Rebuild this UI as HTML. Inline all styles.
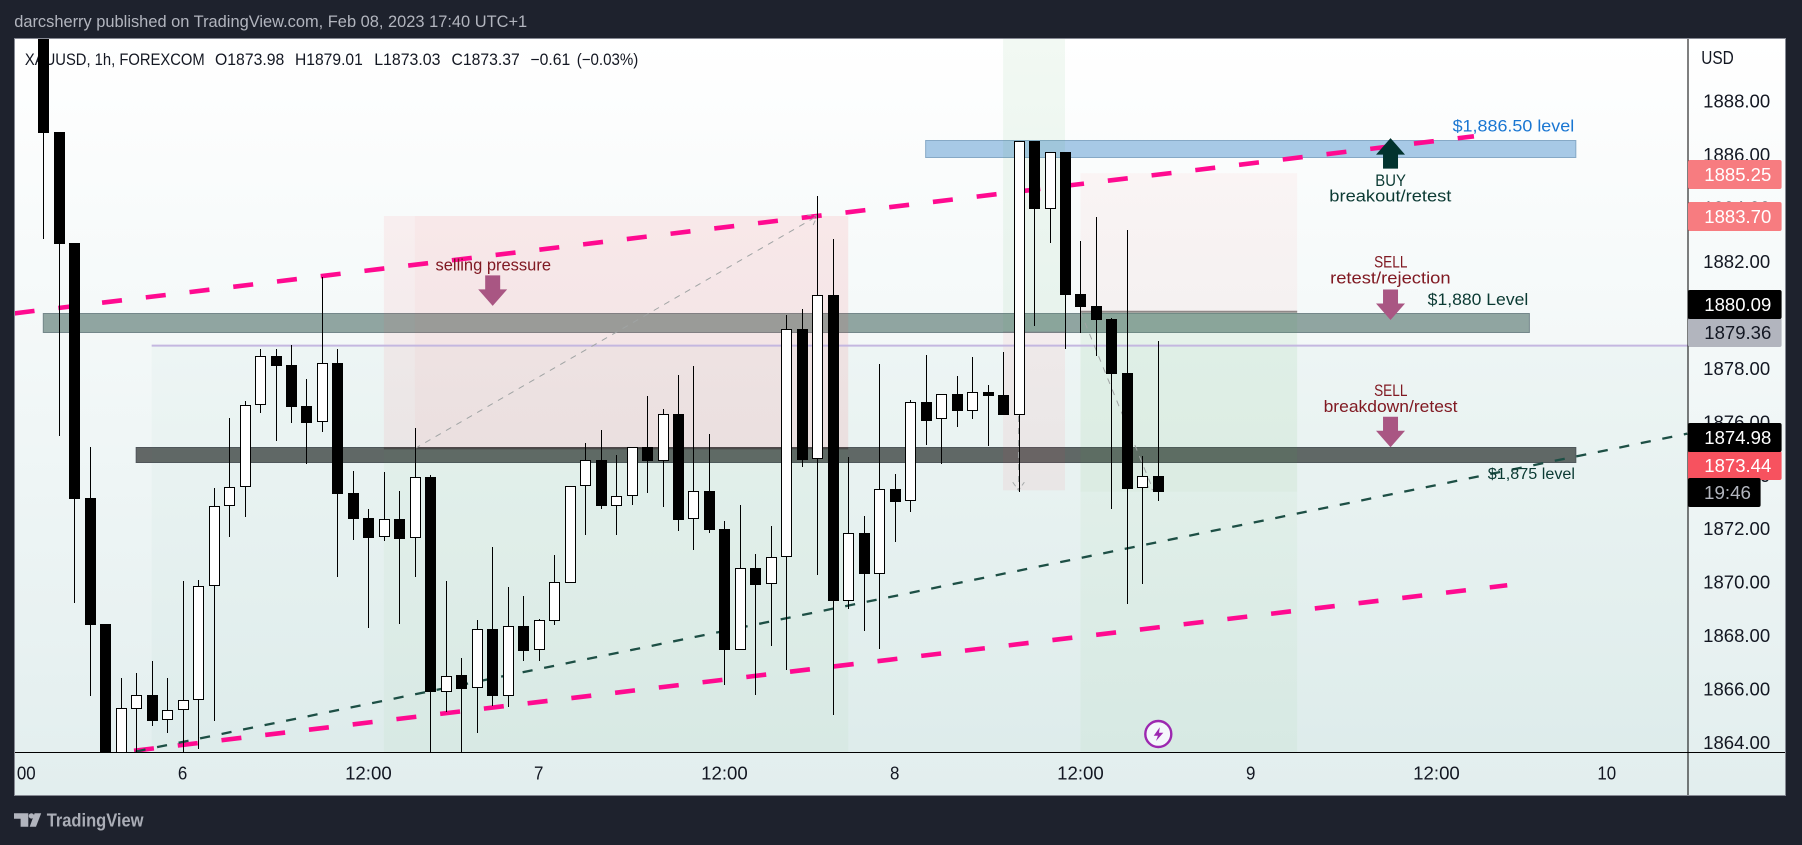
<!DOCTYPE html>
<html lang="en">
<head>
<meta charset="utf-8">
<title>XAUUSD 1h chart</title>
<style>
html,body{margin:0;padding:0;width:1802px;height:845px;overflow:hidden;background:#1e222d;}
svg{display:block;}
text{font-family:"Liberation Sans",sans-serif;}
</style>
</head>
<body>
<svg id="chart" xmlns="http://www.w3.org/2000/svg" width="1802" height="845" viewBox="0 0 1802 845">
  <defs>
    <linearGradient id="paneGradient" x1="0" y1="0" x2="0" y2="1">
      <stop offset="0" stop-color="#ffffff"/>
      <stop offset="1" stop-color="#e2eeee"/>
    </linearGradient>
    <clipPath id="paneClip"><rect x="15" y="39" width="1673" height="713"/></clipPath>
    <clipPath id="timeClip"><rect x="15" y="753" width="1673" height="42"/></clipPath>
  </defs>

  <rect x="0" y="0" width="1802" height="845" fill="#1e222d"/>
  <text x="14.2" y="27" font-size="17" fill="#b2b5be" textLength="513" lengthAdjust="spacingAndGlyphs">darcsherry published on TradingView.com, Feb 08, 2023 17:40 UTC+1</text>

  <rect x="14.5" y="38.5" width="1771" height="757" fill="url(#paneGradient)" stroke="#868993" stroke-width="1"/>

  <g font-size="16.5" fill="#131722">
    <text x="24.9" y="65" textLength="179.8" lengthAdjust="spacingAndGlyphs">XAUUSD, 1h, FOREXCOM</text>
    <text x="215" y="65" textLength="69.3" lengthAdjust="spacingAndGlyphs">O1873.98</text>
    <text x="295" y="65" textLength="67.8" lengthAdjust="spacingAndGlyphs">H1879.01</text>
    <text x="374.2" y="65" textLength="66.3" lengthAdjust="spacingAndGlyphs">L1873.03</text>
    <text x="451.5" y="65" textLength="68.2" lengthAdjust="spacingAndGlyphs">C1873.37</text>
    <text x="530.4" y="65" textLength="39.8" lengthAdjust="spacingAndGlyphs">−0.61</text>
    <text x="576.7" y="65" textLength="61.6" lengthAdjust="spacingAndGlyphs">(−0.03%)</text>
  </g>

  <g id="plot" clip-path="url(#paneClip)">
    <g id="bands"></g>
    <g id="boxes"></g>
    <g id="trends"></g>
    <g id="candles"></g>
  </g>

  <g id="arrows"></g>

  <g font-size="17">
    <text x="435.5" y="270.7" fill="#801922" textLength="115.5" lengthAdjust="spacingAndGlyphs">selling pressure</text>
    <text x="1452.6" y="131.7" fill="#1976d2" textLength="121.6" lengthAdjust="spacingAndGlyphs">$1,886.50 level</text>
    <text x="1375.3" y="186" fill="#0b3a33" textLength="30.6" lengthAdjust="spacingAndGlyphs">BUY</text>
    <text x="1329.3" y="201.7" fill="#0b3a33" textLength="122.1" lengthAdjust="spacingAndGlyphs">breakout/retest</text>
    <text x="1374.1" y="267.3" fill="#801922" textLength="33.3" lengthAdjust="spacingAndGlyphs">SELL</text>
    <text x="1330.1" y="283.3" fill="#801922" textLength="120.5" lengthAdjust="spacingAndGlyphs">retest/rejection</text>
    <text x="1427.7" y="305" fill="#0b3a33" textLength="100.6" lengthAdjust="spacingAndGlyphs">$1,880 Level</text>
    <text x="1374.1" y="396" fill="#801922" textLength="33.3" lengthAdjust="spacingAndGlyphs">SELL</text>
    <text x="1323.6" y="412" fill="#801922" textLength="133.9" lengthAdjust="spacingAndGlyphs">breakdown/retest</text>
    <text x="1487.8" y="479" fill="#0b3a33" font-size="15.5" textLength="87.2" lengthAdjust="spacingAndGlyphs">$1,875 level</text>
  </g>

  <g>
    <circle cx="1158.3" cy="734" r="13" fill="#f4f7fb" stroke="#9c27b0" stroke-width="2.4"/>
    <polygon points="1159.8,727.3 1153.7,735.7 1157.9,735.7 1156,741 1163.3,732.7 1159,732.7" fill="#9c27b0"/>
  </g>

  <line x1="1688" y1="39" x2="1688" y2="795" stroke="#000" stroke-width="1"/>
  <line x1="15" y1="752.5" x2="1785" y2="752.5" stroke="#000" stroke-width="1"/>

  <text x="1701.3" y="64" font-size="18" fill="#131722" textLength="32.5" lengthAdjust="spacingAndGlyphs">USD</text>
  <g id="priceTicks"></g>
  <g id="timeTicks" clip-path="url(#timeClip)"></g>

  <g font-size="18">
    <g>
      <rect x="1688" y="160" width="93.6" height="29" rx="2" fill="#f77c80"/>
      <text x="1704.3" y="181" fill="#fff" textLength="67" lengthAdjust="spacingAndGlyphs">1885.25</text>
    </g>
    <g>
      <rect x="1688" y="202" width="93.6" height="29" rx="2" fill="#f77c80"/>
      <text x="1704.3" y="223" fill="#fff" textLength="67" lengthAdjust="spacingAndGlyphs">1883.70</text>
    </g>
    <g>
      <rect x="1688" y="318" width="93.6" height="29" rx="2" fill="#b2b5be"/>
      <text x="1704.3" y="339" fill="#131722" textLength="67" lengthAdjust="spacingAndGlyphs">1879.36</text>
    </g>
    <g>
      <rect x="1688" y="290" width="93.6" height="29" rx="2" fill="#000"/>
      <text x="1704.3" y="311" fill="#fff" textLength="67" lengthAdjust="spacingAndGlyphs">1880.09</text>
    </g>
    <g>
      <rect x="1688" y="451" width="93.6" height="29" rx="2" fill="#f7525f"/>
      <text x="1704.3" y="472" fill="#fff" textLength="67" lengthAdjust="spacingAndGlyphs">1873.44</text>
    </g>
    <g>
      <rect x="1688" y="423" width="93.6" height="29" rx="2" fill="#000"/>
      <text x="1704.3" y="444" fill="#fff" textLength="67" lengthAdjust="spacingAndGlyphs">1874.98</text>
    </g>
    <g>
      <rect x="1688" y="478" width="72.6" height="29" rx="2" fill="#000"/>
      <text x="1704" y="499" fill="#b2b5be" textLength="47" lengthAdjust="spacingAndGlyphs">19:46</text>
    </g>
  </g>

  <g>
    <polygon points="14,813.3 28.3,813.3 28.3,826.7 20.6,826.7 20.6,818.8 14,818.8" fill="#b2b5be"/>
    <circle cx="31.4" cy="815.9" r="2.7" fill="#b2b5be"/>
    <polygon points="34.6,813.3 41.2,813.3 36,826.7 29.7,826.7" fill="#b2b5be"/>
    <text x="46.7" y="826.7" font-size="18" font-weight="bold" fill="#b2b5be" fill-opacity="0.95" textLength="96.8" lengthAdjust="spacingAndGlyphs">TradingView</text>
  </g>
</svg>

<script>
// --- Candle values (one hourly bar per entry) ---
const opens = [1892,1886.84,1882.69,1873.15,1868.44,1863,1865.28,1865.79,1864.84,1865.21,1865.59,1869.85,1872.84,1873.55,1876.62,1878.45,1878.11,1876.59,1875.98,1878.19,1873.34,1872.39,1871.68,1872.36,1871.64,1873.93,1865.91,1866.52,1866.04,1868.24,1865.76,1868.37,1867.46,1868.57,1869.99,1873.59,1874.57,1872.87,1873.22,1875.05,1874.55,1876.28,1872.36,1873.42,1871.99,1867.48,1870.52,1869.92,1870.93,1879.46,1874.60,1880.74,1869.31,1871.84,1870.32,1873.49,1873.03,1876.74,1876.10,1877.03,1876.42,1877.11,1877.00,1876.27,1886.50,1883.97,1886.09,1880.78,1880.33,1879.85,1877.82,1873.51,1873.98];
const highs = [1893,1886.84,1882.69,1875.06,1868.44,1866.42,1866.61,1867.06,1866.42,1870.05,1870.09,1873.51,1876.13,1876.77,1878.71,1878.71,1878.86,1877.60,1881.41,1878.71,1874.16,1872.74,1874.13,1873.42,1875.76,1874.01,1870.05,1867.17,1868.59,1871.32,1869.81,1869.49,1868.63,1871.02,1873.59,1875.20,1875.70,1874.76,1875.05,1876.97,1876.47,1877.75,1878.09,1875.55,1872.29,1872.89,1871.06,1872.11,1880.00,1880.22,1884.45,1882.84,1874.70,1872.48,1878.16,1874.05,1876.82,1878.50,1877.03,1877.72,1878.41,1877.38,1878.60,1886.49,1886.50,1886.08,1886.09,1882.76,1883.66,1879.87,1883.18,1874.72,1879.01];
const lows = [1882.85,1875.48,1869.24,1865.75,1862,1862,1863.5,1864.64,1864.38,1863.5,1863.78,1864.83,1871.69,1872.44,1876.34,1875.30,1875.97,1874.44,1875.63,1870.21,1871.58,1868.30,1871.56,1868.44,1870.21,1863.5,1865.14,1863.5,1864.38,1865.37,1865.32,1867.07,1867.07,1868.42,1869.99,1871.77,1872.74,1871.77,1872.89,1873.35,1872.83,1871.93,1871.22,1871.86,1866.16,1867.48,1865.79,1867.62,1866.72,1874.33,1870.27,1865.04,1869.00,1868.19,1867.51,1871.52,1872.64,1875.15,1874.41,1875.82,1876.12,1875.10,1876.26,1873.39,1879.60,1882.70,1878.74,1879.34,1878.48,1872.75,1869.20,1869.95,1873.03];
const closes = [1886.82,1882.65,1873.12,1868.40,1863,1865.29,1865.77,1864.83,1865.21,1865.59,1869.85,1872.84,1873.55,1876.62,1878.45,1878.10,1876.57,1875.97,1878.19,1873.32,1872.38,1871.67,1872.36,1871.63,1873.93,1865.91,1866.51,1866.02,1868.24,1865.75,1868.35,1867.44,1868.58,1870.00,1873.59,1874.56,1872.87,1873.22,1875.05,1874.54,1876.28,1872.34,1873.40,1871.97,1867.48,1870.52,1869.91,1870.93,1879.46,1874.57,1880.73,1869.30,1871.83,1870.31,1873.48,1873.02,1876.73,1876.05,1877.03,1876.42,1877.11,1876.98,1876.26,1886.49,1883.96,1886.08,1880.74,1880.31,1879.82,1877.80,1873.50,1873.96,1873.37];

// --- Axis tick labels ---
const priceTickValues = [1888,1886,1884,1882,1880,1878,1876,1874,1872,1870,1868,1866,1864];
const timeTickLabels = ['00','6','12:00','7','12:00','8','12:00','9','12:00','10'];
const timeTickBars = [-1.1,9,21,32,44,55,67,78,90,101];

// --- Drawing tools, as [left bar, right bar, top price, bottom price] ---
const resistanceBand = [0,96,1880.06,1879.37];
const supportBand = [6,99,1875.05,1874.51];
const breakoutBand = [57,99,1886.53,1885.92];
const lowerRangeZone = [7,107,1878.85,1863];
const shortTargetZone = [22,52,1875.01,1863];
const shortStopZone = [22,52,1883.70,1875.01];
const shortStopInner = [24,52,1883.70,1875.01];
const midStopZone = [62,66,1879.36,1873.44];
const midTargetZone = [62,66,1891,1879.36];
const lateStopZone = [67,81,1885.30,1880.12];
const lateTargetZone = [67,81,1880.12,1863];
const lateTargetInner = [67,81,1880.12,1873.39];

// --- Trend lines, as bar and price anchors ---
const upperTrendBars = [-1.854,92.42];
const upperTrendPrices = [1880.06,1886.68];
const lowerTrendBars = [5.86,94.57];
const lowerTrendPrices = [1863.70,1869.89];
const channelBars = [5.96,106.2];
const channelPrices = [1863.67,1875.56];

// --- Projection lines of the position tools ---
const projectionStartBars = [24,63,67];
const projectionStartPrices = [1875.0,1879.36,1880.12];
const projectionEndBars = [50,63,71.7];
const projectionEndPrices = [1883.7,1873.44,1873.45];

// --- Signal arrows ---
const arrowBars = [29.03,87.03,87.03,87.03];
const arrowPrices = [1880.34,1886.61,1879.81,1875.05];
const arrowSides = ['sell','buy','sell','sell'];

// --- Axis functions ---
function xScale(bar){ return 43.3 + 15.48 * bar; }
function yScale(price){ return 101 + (1888 - price) * 26.74; }

const SVG_NS = 'http://www.w3.org/2000/svg';
function make(tag, parentId){
  const node = document.createElementNS(SVG_NS, tag);
  document.getElementById(parentId).appendChild(node);
  return node;
}

function drawBand(extent, fill, stroke, label){
  const el = make('rect', 'bands');
  
  
  const top = Math.round(yScale(extent[2]));
  const bottom = Math.round(yScale(extent[3]));
  el.setAttribute('x', xScale(extent[0]));
  el.setAttribute('y', top + 0.5);
  el.setAttribute('width', xScale(extent[1]) - xScale(extent[0]));
  el.setAttribute('height', bottom - top);
  el.setAttribute('fill', fill);
  el.setAttribute('stroke', stroke);
  el.setAttribute('stroke-width', '1');
}
drawBand(resistanceBand, '#90a5a1', '#74878a', 'level-1880-band');
drawBand(supportBand, '#626766', '#50555a', 'level-1875-band');
drawBand(breakoutBand, '#a7c9e6', '#86a9c6', 'level-1886-band');

function drawZone(extent, fill, label){
  const el = make('rect', 'boxes');
  
  
  el.setAttribute('x', xScale(extent[0]));
  el.setAttribute('y', yScale(extent[2]));
  el.setAttribute('width', xScale(extent[1]) - xScale(extent[0]));
  el.setAttribute('height', yScale(extent[3]) - yScale(extent[2]));
  el.setAttribute('fill', fill);
}
drawZone(lowerRangeZone, 'rgba(60,170,130,0.03)', 'range-zone');
drawZone(shortTargetZone, 'rgba(76,175,80,0.04)', 'short-target-zone');
drawZone(shortStopZone, 'rgba(248,58,70,0.065)', 'short-stop-zone');
drawZone(shortStopInner, 'rgba(248,58,70,0.03)', 'short-stop-inner-zone');
drawZone(midTargetZone, 'rgba(76,175,80,0.07)', 'mid-target-zone');
drawZone(midStopZone, 'rgba(248,58,70,0.06)', 'mid-stop-zone');
drawZone(lateStopZone, 'rgba(248,58,70,0.045)', 'late-stop-zone');
drawZone(lateTargetZone, 'rgba(76,175,80,0.045)', 'late-target-zone');
drawZone(lateTargetInner, 'rgba(76,175,80,0.035)', 'late-target-inner-zone');

function drawEdge(extent, price, stroke, width, label){
  const el = make('line', 'boxes');
  
  
  el.setAttribute('x1', xScale(extent[0]));
  el.setAttribute('x2', xScale(extent[1]));
  el.setAttribute('y1', yScale(price));
  el.setAttribute('y2', yScale(price));
  el.setAttribute('stroke', stroke);
  el.setAttribute('stroke-width', width);
}
drawEdge(lowerRangeZone, lowerRangeZone[2], '#c4b7e0', 2, 'range-zone-top-line');
drawEdge(shortStopZone, shortStopZone[3], 'rgba(50,50,50,0.55)', 2, 'short-entry-line');
drawEdge(midStopZone, midStopZone[2], 'rgba(120,123,134,0.5)', 1, 'mid-entry-line');
drawEdge(lateStopZone, lateStopZone[3], 'rgba(120,110,110,0.8)', 2, 'late-entry-line');

function drawTrend(bars, prices, stroke, width, dash, label){
  const el = make('line', 'trends');
  
  
  el.setAttribute('x1', xScale(bars[0]));
  el.setAttribute('y1', yScale(prices[0]));
  el.setAttribute('x2', xScale(bars[1]));
  el.setAttribute('y2', yScale(prices[1]));
  el.setAttribute('stroke', stroke);
  el.setAttribute('stroke-width', width);
  el.setAttribute('stroke-dasharray', dash);
}
drawTrend(upperTrendBars, upperTrendPrices, '#ff0a90', 4.6, '20.05 24', 'upper-trend-line');
drawTrend(lowerTrendBars, lowerTrendPrices, '#ff0a90', 4.6, '20.05 24', 'lower-trend-line');
drawTrend(channelBars, channelPrices, '#1d4f45', 2.3, '10.15 11.8', 'channel-trend-line');

projectionStartBars.forEach(function(startBar, i){
  const x1 = xScale(startBar);
  const y1 = yScale(projectionStartPrices[i]);
  const x2 = xScale(projectionEndBars[i]);
  const y2 = yScale(projectionEndPrices[i]);
  const stem = make('line', 'trends');
  
  
  stem.setAttribute('x1', x1);
  stem.setAttribute('y1', y1);
  stem.setAttribute('x2', x2);
  stem.setAttribute('y2', y2);
  stem.setAttribute('stroke', '#a0a4a4');
  stem.setAttribute('stroke-width', '1');
  stem.setAttribute('stroke-dasharray', '6 6');
  const angle = Math.atan2(y2 - y1, x2 - x1);
  const a1 = angle + Math.PI - 0.62;
  const a2 = angle + Math.PI + 0.62;
  const head = make('polyline', 'trends');
  
  
  head.setAttribute('points', (x2 + 10 * Math.cos(a1)) + ',' + (y2 + 10 * Math.sin(a1)) + ' ' + x2 + ',' + y2 + ' ' + (x2 + 10 * Math.cos(a2)) + ',' + (y2 + 10 * Math.sin(a2)));
  head.setAttribute('fill', 'none');
  head.setAttribute('stroke', '#a8acac');
  head.setAttribute('stroke-width', '1');
  head.setAttribute('stroke-dasharray', '5 3');
});

opens.forEach(function(open, i){
  const close = closes[i];
  const up = close >= open;
  const cx = Math.round(xScale(i)) + 0.5;
  const wick = make('rect', 'candles');
  
  
  const wickTop = Math.round(yScale(highs[i]));
  const wickBottom = Math.round(yScale(lows[i]));
  wick.setAttribute('x', cx - 0.5);
  wick.setAttribute('y', wickTop);
  wick.setAttribute('width', 1);
  wick.setAttribute('height', Math.max(1, wickBottom - wickTop));
  wick.setAttribute('fill', '#000');
  const body = make('rect', 'candles');
  
  
  const top = Math.round(yScale(Math.max(open, close)));
  const bottom = Math.round(yScale(Math.min(open, close)));
  const h = Math.max(2, bottom - top);
  if (up) {
    body.setAttribute('x', cx - 5);
    body.setAttribute('y', top + 0.5);
    body.setAttribute('width', 10);
    body.setAttribute('height', h - 1);
    body.setAttribute('fill', '#fff');
    body.setAttribute('stroke', '#000');
    body.setAttribute('stroke-width', '1');
  } else {
    body.setAttribute('x', cx - 5.5);
    body.setAttribute('y', top);
    body.setAttribute('width', 11);
    body.setAttribute('height', h);
    body.setAttribute('fill', '#000');
  }
});

arrowBars.forEach(function(bar, i){
  const x = xScale(bar);
  const tip = yScale(arrowPrices[i]);
  const dir = arrowSides[i] === 'buy' ? 1 : -1;
  const neck = tip + dir * 16.5;
  const end = tip + dir * 30.5;
  const el = make('polygon', 'arrows');
  
  
  el.setAttribute('points', [
    x + ',' + tip,
    (x + 14.5) + ',' + neck,
    (x + 7.5) + ',' + neck,
    (x + 7.5) + ',' + end,
    (x - 7.5) + ',' + end,
    (x - 7.5) + ',' + neck,
    (x - 14.5) + ',' + neck
  ].join(' '));
  el.setAttribute('fill', arrowSides[i] === 'buy' ? '#02332e' : '#a95683');
});

priceTickValues.forEach(function(value){
  const el = make('text', 'priceTicks');
  
  
  el.setAttribute('x', 1703.2);
  el.setAttribute('y', yScale(value) + 6.4);
  el.setAttribute('font-size', '18');
  el.setAttribute('fill', '#131722');
  el.setAttribute('textLength', '67');
  el.setAttribute('lengthAdjust', 'spacingAndGlyphs');
  el.textContent = value.toFixed(2);
});

timeTickLabels.forEach(function(label, i){
  const el = make('text', 'timeTicks');
  
  
  el.setAttribute('x', xScale(timeTickBars[i]));
  el.setAttribute('y', 779.3);
  el.setAttribute('font-size', '18');
  el.setAttribute('fill', '#131722');
  el.setAttribute('text-anchor', 'middle');
  el.setAttribute('textLength', label.replace(':', '').length * 9.4 + (label.indexOf(':') >= 0 ? 9 : 0));
  el.setAttribute('lengthAdjust', 'spacingAndGlyphs');
  el.textContent = label;
});
</script>
</body>
</html>
